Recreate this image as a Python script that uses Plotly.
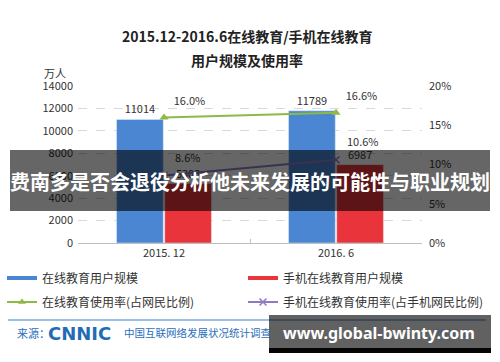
import plotly.graph_objects as go

# ---------------- data ----------------
categories = ["2015. 12", "2016. 6"]
online_users = [11014, 11789]          # 在线教育用户规模 (万人)
mobile_users = [5303, 6987]            # 手机在线教育用户规模 (万人)
online_rate = [16.0, 16.6]             # 在线教育使用率 (%)
mobile_rate = [8.6, 10.6]              # 手机在线教育使用率 (%)
left_ticks = [0, 2000, 4000, 6000, 8000, 10000, 12000, 14000]
right_ticks = [0, 5, 10, 15, 20]

names = ["在线教育用户规模", "手机在线教育用户规模",
         "在线教育使用率(占网民比例)", "手机在线教育使用率(占手机网民比例)"]

BLUE = "#4a86d1"
RED = "#e8343a"
GREEN = "#8dba45"
PURPLE = "#8e7cc3"
FONT = "Noto Sans CJK SC, sans-serif"

W, H = 500, 362
L, R, T, B = 78, 78, 86, 119
PW, PH = W - L - R, H - T - B


def px(x):
    return (x - L) / PW


def py(y):
    return (H - B - y) / PH


fig = go.Figure()

fig.add_trace(go.Bar(
    x=categories, y=online_users, marker_color=BLUE, showlegend=False,
    text=[str(v) for v in online_users], textposition="outside",
    textfont=dict(size=11, color="#333333"), cliponaxis=False,
))
fig.add_trace(go.Bar(
    x=categories, y=mobile_users, marker_color=RED, showlegend=False,
    text=[str(v) for v in mobile_users], textposition="outside",
    textfont=dict(size=11, color="#333333"), cliponaxis=False,
))
fig.add_trace(go.Scatter(
    x=categories, y=online_rate, yaxis="y2", mode="lines+markers",
    line=dict(color=GREEN, width=2),
    marker=dict(symbol="triangle-up", size=8, color=GREEN),
    showlegend=False, cliponaxis=False,
))
fig.add_trace(go.Scatter(
    x=categories, y=mobile_rate, yaxis="y2", mode="lines+markers",
    line=dict(color=PURPLE, width=2),
    marker=dict(symbol="x-thin", size=7, line=dict(color=PURPLE, width=1.5)),
    showlegend=False, cliponaxis=False,
))
# value labels of the rate lines (invisible markers give the label offset)
fig.add_trace(go.Scatter(
    x=categories, y=online_rate, yaxis="y2", mode="markers+text",
    marker=dict(size=14, color="rgba(0,0,0,0)"),
    text=[f"{v:.1f}%" for v in online_rate], textposition="top right",
    textfont=dict(size=11, color="#333333"), showlegend=False, cliponaxis=False,
    hoverinfo="skip",
))
fig.add_trace(go.Scatter(
    x=categories, y=mobile_rate, yaxis="y2", mode="markers+text",
    marker=dict(size=16, color="rgba(0,0,0,0)"),
    text=[f"{v:.1f}%" for v in mobile_rate], textposition="top right",
    textfont=dict(size=11, color="#333333"), showlegend=False, cliponaxis=False,
    hoverinfo="skip",
))

# legend entries (one legend per entry, placed in a 2 x 2 grid)
fig.add_trace(go.Scatter(x=[None], y=[None], mode="lines", name=names[0],
                         line=dict(color=BLUE, width=4), legend="legend"))
fig.add_trace(go.Scatter(x=[None], y=[None], mode="lines", name=names[1],
                         line=dict(color=RED, width=4), legend="legend2"))
fig.add_trace(go.Scatter(x=[None], y=[None], mode="lines+markers", name=names[2],
                         line=dict(color=GREEN, width=2),
                         marker=dict(symbol="triangle-up", size=7, color=GREEN),
                         legend="legend3"))
fig.add_trace(go.Scatter(x=[None], y=[None], mode="lines+markers", name=names[3],
                         line=dict(color=PURPLE, width=2),
                         marker=dict(symbol="x-thin", size=7, line=dict(color=PURPLE, width=1.5)),
                         legend="legend4"))

legend_common = dict(orientation="v", xanchor="left", yanchor="middle",
                     bgcolor="rgba(0,0,0,0)", font=dict(size=12, color="#333333", family=FONT),
                     itemclick=False, itemdoubleclick=False)

shapes = [
    dict(type="line", xref="paper", yref="paper", x0=px(8), x1=px(486), y0=py(320), y1=py(320),
         line=dict(color="#9dc0e6", width=2)),
    dict(type="rect", xref="paper", yref="paper", x0=px(10), x1=px(490), y0=py(150), y1=py(211),
         fillcolor="rgba(0,0,0,0.6)", line=dict(width=0), layer="above"),
    dict(type="rect", xref="paper", yref="paper", x0=px(269), x1=px(491), y0=py(315), y1=py(348),
         fillcolor="rgba(0,0,0,0.62)", line=dict(width=0), layer="above"),
    dict(type="rect", xref="paper", yref="paper", x0=px(269), x1=px(491), y0=py(348), y1=py(353),
         fillcolor="#050505", line=dict(width=0), layer="above"),
]

ann = [
    dict(text="<b>2015.12-2016.6在线教育/手机在线教育</b>", x=px(247), y=py(36),
         font=dict(size=14, color="#222222")),
    dict(text="<b>用户规模及使用率</b>", x=px(247), y=py(60), font=dict(size=14, color="#222222")),
    dict(text="万人", x=px(55), y=py(73), font=dict(size=11, color="#333333")),
    dict(text="来源：", x=px(15), y=py(333), xanchor="left", font=dict(size=11, color="#2a6fb8")),
    dict(text="<b>CNNIC</b>", x=px(46), y=py(333), xanchor="left",
         font=dict(size=18, color="#1f6db5", family="DejaVu Sans")),
    dict(text="中国互联网络发展状况统计调查", x=px(122), y=py(332), xanchor="left",
         font=dict(size=10.5, color="#2a6fb8")),
    dict(text="2016.6", x=px(470), y=py(332), xanchor="right", font=dict(size=11, color="#4a5868")),
    dict(text="<b>费南多是否会退役分析他未来发展的可能性与职业规划</b>", x=px(250), y=py(181),
         font=dict(size=20, color="white")),
    dict(text="<b>www.global-bwinty.com</b>", x=px(379), y=py(333),
         font=dict(size=16, color="white", family="Noto Sans, sans-serif")),
]
for a in ann:
    a.setdefault("xanchor", "center")
    a.update(xref="paper", yref="paper", yanchor="middle", showarrow=False)
    a["font"].setdefault("family", FONT)

fig.update_layout(
    width=W, height=H,
    margin=dict(l=L, r=R, t=T, b=B, autoexpand=False),
    paper_bgcolor="white", plot_bgcolor="white",
    font=dict(family=FONT, size=11, color="#333333"),
    barmode="group", bargap=0.44, bargroupgap=0.03,
    xaxis=dict(type="category", showline=True, linecolor="#bfbfbf", linewidth=1,
               ticks="inside", ticklen=4, tickcolor="#bfbfbf", tickson="boundaries",
               showgrid=False, tickfont=dict(size=11, color="#333333")),
    yaxis=dict(range=[0, 14000], tickvals=left_ticks, ticktext=[str(v) for v in left_ticks],
               showgrid=True, gridcolor="#d9d9d9", griddash="dash", zeroline=False,
               ticklabelstandoff=4, tickfont=dict(size=11, color="#333333")),
    yaxis2=dict(range=[0, 20], overlaying="y", side="right", tickvals=right_ticks,
                ticktext=[f"{v}%" for v in right_ticks], showgrid=False, zeroline=False,
                ticklabelstandoff=6, tickfont=dict(size=11, color="#333333")),
    legend=dict(legend_common, x=px(2), y=py(278)),
    legend2=dict(legend_common, x=px(243), y=py(278)),
    legend3=dict(legend_common, x=px(2), y=py(302)),
    legend4=dict(legend_common, x=px(243), y=py(302)),
    shapes=shapes,
    annotations=ann,
    hovermode=False,
)

fig.write_html("out.html", config={"displayModeBar": False},
               post_script="document.body.style.margin='0';")
